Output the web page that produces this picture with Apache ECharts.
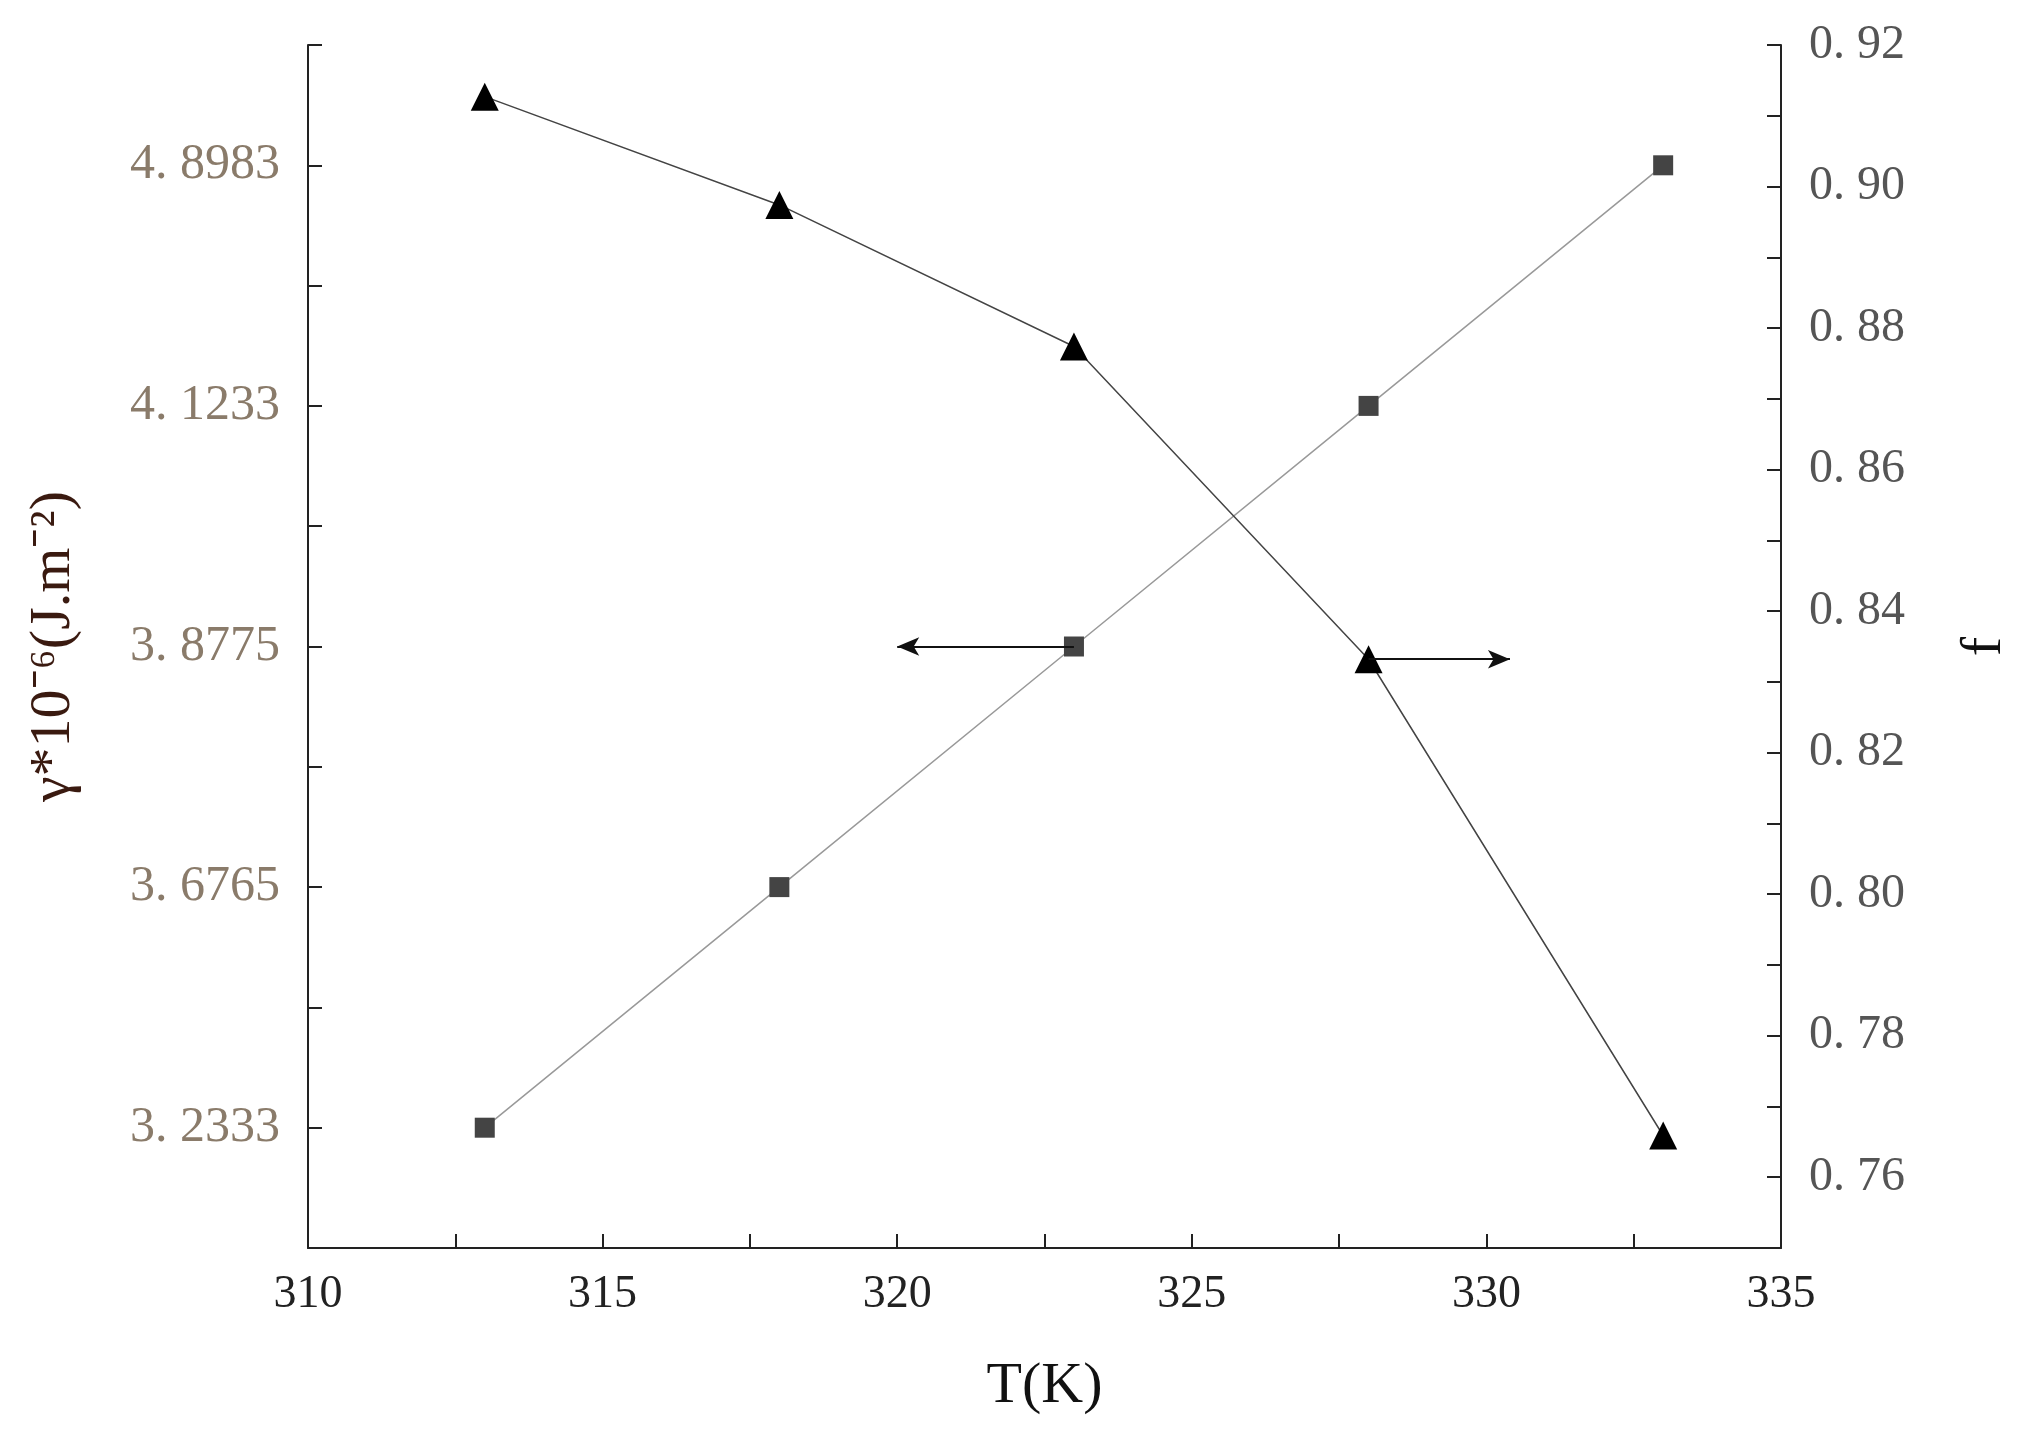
<!DOCTYPE html>
<html>
<head>
<meta charset="utf-8" />
<script src="https://cdn.jsdelivr.net/npm/echarts@6/dist/echarts.min.js"></script>
<style>html,body{margin:0;background:#fff}#c{width:2022px;height:1433px}</style>
</head>
<body>
<div id="c"></div>
<script>
var temps = [313, 318, 323, 328, 333];
// left axis: evenly spaced tick positions with their printed values
var gammaLabels = ['3. 2333', '3. 6765', '3. 8775', '4. 1233', '4. 8983'];
var gammaIndex = [0, 1, 2, 3, 4];
var fValues = [0.9127, 0.8974, 0.8774, 0.8332, 0.7659];

var chart = echarts.init(document.getElementById('c'));
var font = 'Liberation Serif';
chart.setOption({
    backgroundColor: '#fff',
    animation: false,
    grid: { left: 308, right: 217, top: 45, bottom: 185 },
    xAxis: {
        type: 'value', min: 310, max: 335, interval: 2.5,
        name: 'T(K)', nameLocation: 'middle', nameGap: 110,
        nameTextStyle: { fontFamily: font, fontSize: 58, color: '#111' },
        axisLine: { onZero: false, lineStyle: { color: '#222', width: 2 } },
        axisTick: { inside: true, length: 14, lineStyle: { color: '#222', width: 2 } },
        axisLabel: { fontFamily: font, fontSize: 46, color: '#222', margin: 24,
            formatter: function (v) { return v % 5 === 0 ? v : ''; } },
        splitLine: { show: false }
    },
    yAxis: [{
        type: 'value', min: -0.5, max: 4.5, interval: 0.5,
        name: 'γ*10⁻⁶(J.m⁻²)', nameLocation: 'middle', nameGap: 225, nameRotate: 90,
        nameTextStyle: { fontFamily: font, fontSize: 58, color: '#3a1a10' },
        axisLine: { show: true, onZero: false, lineStyle: { color: '#222', width: 2 } },
        axisTick: { inside: true, length: 14, lineStyle: { color: '#222', width: 2 } },
        axisLabel: { fontFamily: font, fontSize: 50, color: '#8a7b6a', margin: 28,
            formatter: function (v) { return Number.isInteger(v) ? gammaLabels[v] : ''; } },
        splitLine: { show: false }
    }, {
        type: 'value', min: 0.75, max: 0.92, interval: 0.01,
        name: 'f', nameLocation: 'middle', nameGap: 175, nameRotate: 90,
        nameTextStyle: { fontFamily: font, fontSize: 58, color: '#111' },
        axisLine: { show: true, onZero: false, lineStyle: { color: '#222', width: 2 } },
        axisTick: { inside: true, length: 14, lineStyle: { color: '#222', width: 2 } },
        axisLabel: { fontFamily: font, fontSize: 48, color: '#555', margin: 28,
            formatter: function (v) {
                var k = Math.round(v * 100);
                return (k % 2 === 0 && k >= 76) ? '0. ' + k : '';
            } },
        splitLine: { show: false }
    }],
    series: [{
        type: 'line', yAxisIndex: 0,
        data: temps.map(function (t, i) { return [t, gammaIndex[i]]; }),
        symbol: 'rect', symbolSize: 20,
        lineStyle: { color: '#999', width: 1.5 },
        itemStyle: { color: '#444' },
        markLine: {
            silent: true, symbol: ['none', 'arrow'], symbolSize: [14, 22],
            lineStyle: { color: '#111', width: 2, type: 'solid' }, label: { show: false },
            data: [[{ coord: [323, 2] }, { coord: [320, 2] }]]
        }
    }, {
        type: 'line', yAxisIndex: 1,
        data: temps.map(function (t, i) { return [t, fValues[i]]; }),
        symbol: 'triangle', symbolSize: 28,
        lineStyle: { color: '#444', width: 1.5 },
        itemStyle: { color: '#000' },
        markLine: {
            silent: true, symbol: ['none', 'arrow'], symbolSize: [14, 22],
            lineStyle: { color: '#111', width: 2, type: 'solid' }, label: { show: false },
            data: [[{ coord: [328, 0.8332] }, { coord: [330.4, 0.8332] }]]
        }
    }]
});
</script>
</body>
</html>
